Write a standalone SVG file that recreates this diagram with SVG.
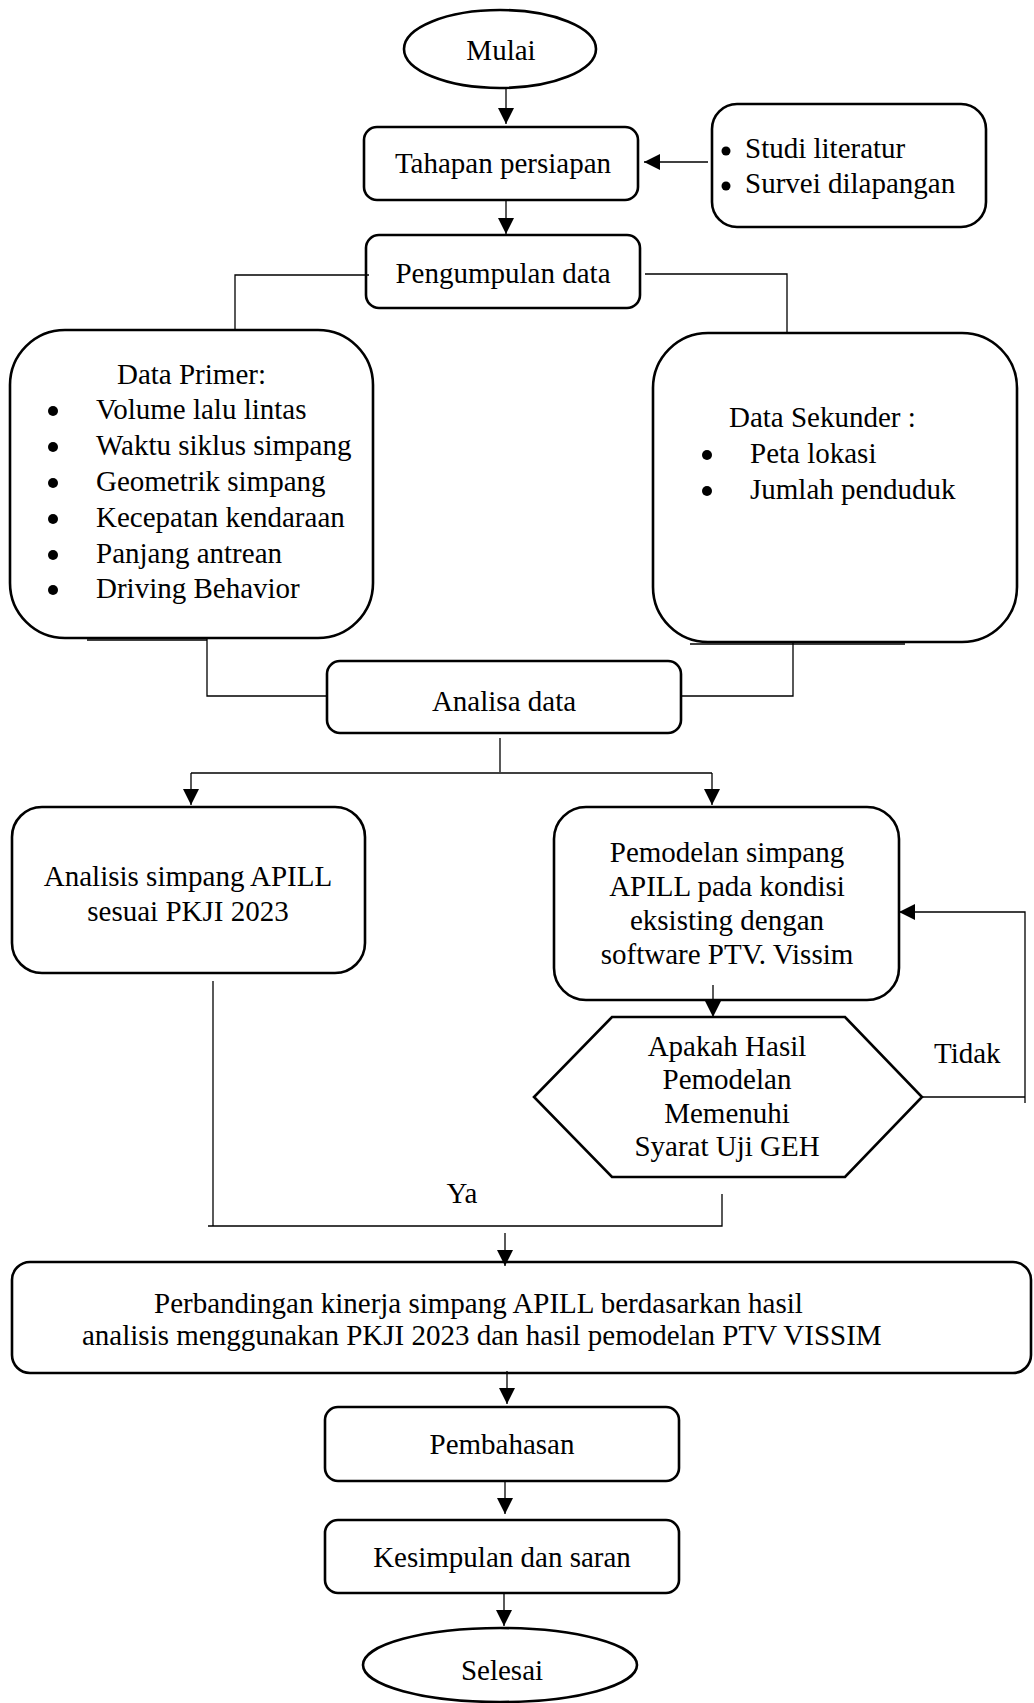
<svg xmlns="http://www.w3.org/2000/svg" width="1034" height="1703" viewBox="0 0 1034 1703">
<style>
.n{fill:none;stroke:#000;stroke-width:2.6}
.c{fill:none;stroke:#000;stroke-width:1.3}
.t{font-family:"Liberation Serif","Times New Roman",serif;font-size:29px;fill:#000}
.m{text-anchor:middle}
.b{fill:#000}
</style>
<defs>
<marker id="ah" markerUnits="userSpaceOnUse" markerWidth="16" markerHeight="16" refX="16" refY="8" orient="auto">
<path d="M0,0 L16,8 L0,16 z" fill="#000"/>
</marker>
</defs>
<rect width="1034" height="1703" fill="#fff"/>
<g id="connectors">
<path class="c" d="M506,88 V124" marker-end="url(#ah)"/>
<path class="c" d="M708,162 H644" marker-end="url(#ah)"/>
<path class="c" d="M506,200 V234" marker-end="url(#ah)"/>
<path class="c" d="M369,275 H235 V330"/>
<path class="c" d="M645,274 H787 V333"/>
<path class="c" d="M207,638 V696 H327"/>
<path class="c" d="M793,642 V696 H681"/>
<path class="c" d="M500,738 V772"/>
<path class="c" d="M191,773 H712"/>
<path class="c" d="M191,773 V805" marker-end="url(#ah)"/>
<path class="c" d="M712,773 V805" marker-end="url(#ah)"/>
<path class="c" d="M713,985 V1017" marker-end="url(#ah)"/>
<path class="c" d="M922,1097 H1025"/>
<path class="c" d="M1025,1103 V912 H899" marker-end="url(#ah)"/>
<path class="c" d="M213,981 V1226"/>
<path class="c" d="M208,1226 H722 V1194"/>
<path class="c" d="M505,1233 V1266" marker-end="url(#ah)"/>
<path class="c" d="M507,1371 V1404" marker-end="url(#ah)"/>
<path class="c" d="M505,1481 V1514" marker-end="url(#ah)"/>
<path class="c" d="M504,1593 V1626" marker-end="url(#ah)"/>
<text class="t" x="934" y="1063">Tidak</text>
<text class="t m" x="462" y="1203">Ya</text>
</g>
<g id="mulai">
<ellipse class="n" cx="500" cy="49" rx="96" ry="39"/>
<text class="t m" x="501" y="60">Mulai</text>
</g>
<g id="tahapan">
<rect class="n" x="364" y="127" width="274" height="73" rx="13"/>
<text class="t m" x="503" y="173">Tahapan persiapan</text>
</g>
<g id="studi">
<rect class="n" x="712" y="104" width="274" height="123" rx="25"/>
<circle class="b" cx="726" cy="151" r="4.5"/>
<text class="t" x="745" y="158">Studi literatur</text>
<circle class="b" cx="726" cy="186" r="4.5"/>
<text class="t" x="745" y="193">Survei dilapangan</text>
</g>
<g id="pengumpulan">
<rect class="n" x="366" y="235" width="274" height="73" rx="13"/>
<text class="t m" x="503" y="283">Pengumpulan data</text>
</g>
<g id="primer">
<rect class="n" x="10" y="330" width="363" height="308" rx="55"/>
<line x1="87" y1="640" x2="207" y2="640" stroke="#000" stroke-width="1.5"/>
<text class="t" x="117" y="384">Data Primer:</text>
<circle class="b" cx="53" cy="411" r="5"/>
<text class="t" x="96" y="419">Volume lalu lintas</text>
<circle class="b" cx="53" cy="447" r="5"/>
<text class="t" x="96" y="455">Waktu siklus simpang</text>
<circle class="b" cx="53" cy="483" r="5"/>
<text class="t" x="96" y="491">Geometrik simpang</text>
<circle class="b" cx="53" cy="519" r="5"/>
<text class="t" x="96" y="527">Kecepatan kendaraan</text>
<circle class="b" cx="53" cy="555" r="5"/>
<text class="t" x="96" y="563">Panjang antrean</text>
<circle class="b" cx="53" cy="590" r="5"/>
<text class="t" x="96" y="598">Driving Behavior</text>
</g>
<g id="sekunder">
<rect class="n" x="653" y="333" width="364" height="309" rx="55"/>
<line x1="690" y1="644" x2="905" y2="644" stroke="#000" stroke-width="1.5"/>
<text class="t" x="729" y="427">Data Sekunder :</text>
<circle class="b" cx="707" cy="455" r="5"/>
<text class="t" x="750" y="463">Peta lokasi</text>
<circle class="b" cx="707" cy="491" r="5"/>
<text class="t" x="750" y="499">Jumlah penduduk</text>
</g>
<g id="analisa">
<rect class="n" x="327" y="661" width="354" height="72" rx="13"/>
<text class="t m" x="504" y="711">Analisa data</text>
</g>
<g id="analisis">
<rect class="n" x="12" y="807" width="353" height="166" rx="30"/>
<text class="t m" x="188" y="886">Analisis simpang APILL</text>
<text class="t m" x="188" y="921">sesuai PKJI 2023</text>
</g>
<g id="pemodelan">
<rect class="n" x="554" y="807" width="345" height="193" rx="32"/>
<text class="t m" x="727" y="862">Pemodelan simpang</text>
<text class="t m" x="727" y="896">APILL pada kondisi</text>
<text class="t m" x="727" y="930">eksisting dengan</text>
<text class="t m" x="727" y="964">software PTV. Vissim</text>
</g>
<g id="geh">
<polygon class="n" points="612,1017 845,1017 922,1097 845,1177 612,1177 534,1097"/>
<text class="t m" x="727" y="1056">Apakah Hasil</text>
<text class="t m" x="727" y="1089">Pemodelan</text>
<text class="t m" x="727" y="1123">Memenuhi</text>
<text class="t m" x="727" y="1156">Syarat Uji GEH</text>
</g>
<g id="perbandingan">
<rect class="n" x="12" y="1262" width="1019" height="111" rx="18"/>
<text class="t" x="154" y="1313">Perbandingan kinerja simpang APILL berdasarkan hasil</text>
<text class="t" x="82" y="1345">analisis menggunakan PKJI 2023 dan hasil pemodelan PTV VISSIM</text>
</g>
<g id="pembahasan">
<rect class="n" x="325" y="1407" width="354" height="74" rx="13"/>
<text class="t m" x="502" y="1454">Pembahasan</text>
</g>
<g id="kesimpulan">
<rect class="n" x="325" y="1520" width="354" height="73" rx="13"/>
<text class="t m" x="502" y="1567">Kesimpulan dan saran</text>
</g>
<g id="selesai">
<ellipse class="n" cx="500" cy="1665" rx="137" ry="37"/>
<text class="t m" x="502" y="1680">Selesai</text>
</g>
</svg>
